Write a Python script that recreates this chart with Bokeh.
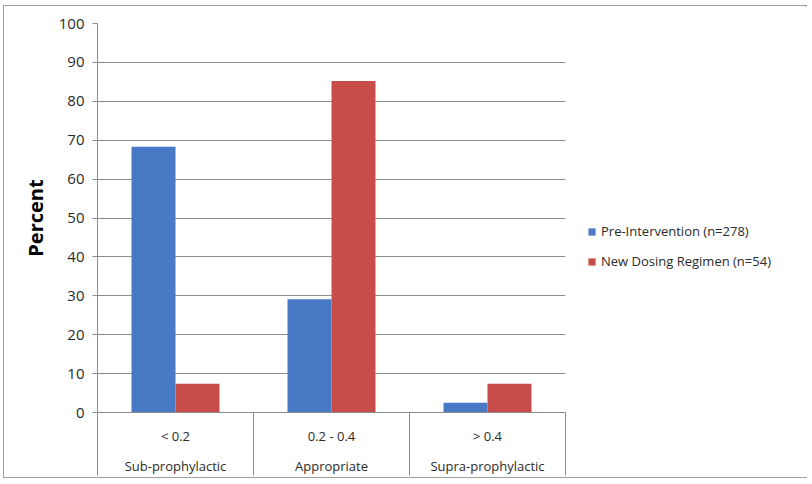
from bokeh.plotting import figure
from bokeh.models import (ColumnDataSource, Range1d, FixedTicker, LinearAxis,
                          Legend, LegendItem)
from bokeh.transform import dodge
from bokeh.embed import file_html
from bokeh.resources import INLINE

# Dose ranges, their interpretation, and the share of patients in each
ranges = ["< 0.2", "0.2 - 0.4", "> 0.4"]
groups = ["Sub-prophylactic", "Appropriate", "Supra-prophylactic"]
pre_intervention = [68.3, 29.1, 2.5]
new_regimen = [7.4, 85.2, 7.4]
y_ticks = [0, 10, 20, 30, 40, 50, 60, 70, 80, 90, 100]
series_names = ["Pre-Intervention (n=278)", "New Dosing Regimen (n=54)"]

BLUE = "#4779C4"
RED = "#C64D4A"
GRID = "#8C8C8C"
TEXT = "#2b2b2b"
FONT = "Open Sans"

centers = [i + 0.5 for i in range(len(ranges))]
src = ColumnDataSource(dict(x=centers, pre=pre_intervention, new=new_regimen))

p = figure(frame_width=468, frame_height=389, x_range=Range1d(0, len(ranges)),
           y_range=Range1d(0, 100), output_backend="svg", toolbar_location=None,
           min_border_left=93, min_border_right=243, min_border_top=17,
           min_border_bottom=64)
p.styles = {"border": "1px solid #a0a0a0", "margin": "5px 0 0 3px",
            "width": "804px"}
p.outline_line_color = None
p.background_fill_color = "white"

bw = 0.282
r_pre = p.vbar(x=dodge("x", -bw / 2, range=p.x_range), top="pre", width=bw,
               source=src, fill_color=BLUE, line_color=None)
r_new = p.vbar(x=dodge("x", bw / 2, range=p.x_range), top="new", width=bw,
               source=src, fill_color=RED, line_color=None)

# y axis
p.yaxis.ticker = FixedTicker(ticks=y_ticks)
p.yaxis.axis_label = "Percent"
p.yaxis.axis_label_text_font = FONT
p.yaxis.axis_label_text_font_style = "bold"
p.yaxis.axis_label_text_font_size = "20px"
p.yaxis.axis_label_text_color = "black"
p.yaxis.axis_label_standoff = 7
p.yaxis.major_label_text_font = FONT
p.yaxis.major_label_text_font_size = "15px"
p.yaxis.major_label_text_color = TEXT
p.yaxis.major_label_standoff = 8
p.yaxis.major_tick_out = 5
p.yaxis.major_tick_in = 0
p.yaxis.minor_tick_line_color = None
p.yaxis.axis_line_color = GRID
p.yaxis.major_tick_line_color = GRID

p.ygrid.ticker = FixedTicker(ticks=y_ticks)
p.ygrid.grid_line_color = GRID
p.xgrid.grid_line_color = None

# x axis: range labels at centres, category separators as long minor ticks
xa = p.xaxis[0]
xa.ticker = FixedTicker(ticks=centers, minor_ticks=list(range(len(ranges) + 1)))
xa.major_label_overrides = {c: t for c, t in zip(centers, ranges)}
xa.major_tick_out = 0
xa.major_tick_in = 0
xa.minor_tick_out = 63
xa.minor_tick_in = 0
xa.minor_tick_line_color = GRID
xa.axis_line_color = GRID
xa.major_label_standoff = -49
xa.major_label_text_font = FONT
xa.major_label_text_font_size = "13px"
xa.major_label_text_color = TEXT

# second row of category labels
xb = LinearAxis(ticker=FixedTicker(ticks=centers),
                major_label_overrides={c: t for c, t in zip(centers, groups)})
xb.axis_line_color = None
xb.major_tick_line_color = None
xb.minor_tick_line_color = None
xb.major_tick_out = 0
xb.minor_tick_out = 0
xb.major_label_standoff = 9
xb.major_label_text_font = FONT
xb.major_label_text_font_size = "13px"
xb.major_label_text_color = TEXT
p.add_layout(xb, "below")

legend = Legend(items=[LegendItem(label=series_names[0], renderers=[r_pre]),
                       LegendItem(label=series_names[1], renderers=[r_new])],
                location=(22, 141))
legend.border_line_color = None
legend.background_fill_alpha = 0
legend.padding = 0
legend.margin = 0
legend.spacing = 10
legend.glyph_width = 9
legend.glyph_height = 9
legend.label_height = 20
legend.label_standoff = 5
legend.label_text_font = FONT
legend.label_text_font_size = "13px"
legend.label_text_color = TEXT
p.add_layout(legend, "right")

open("out.html", "w").write(file_html(p, INLINE))
